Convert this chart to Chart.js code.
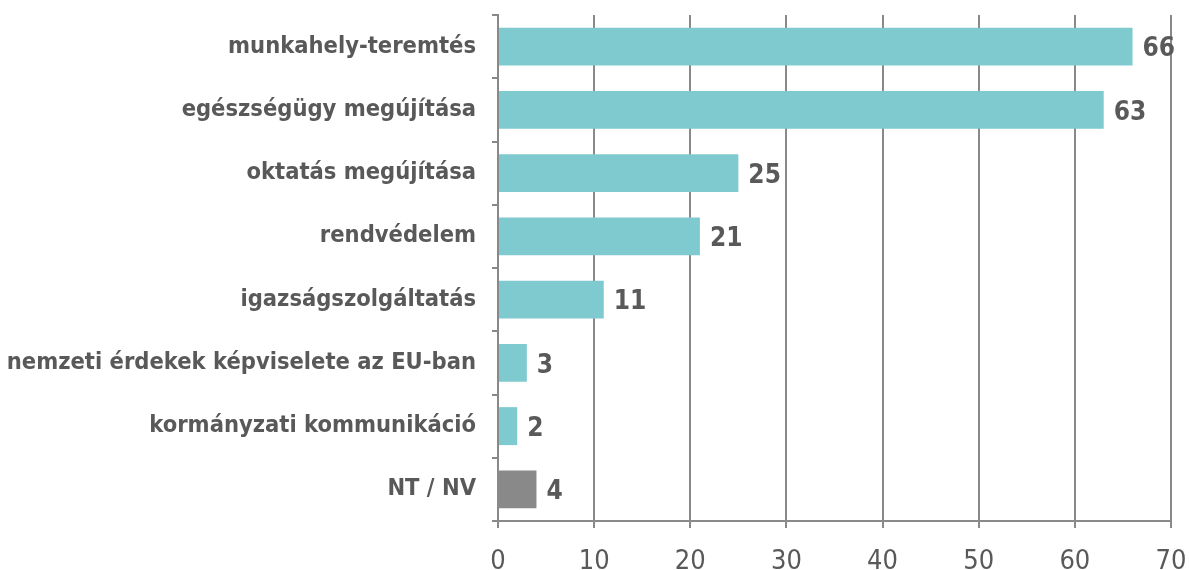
<!DOCTYPE html>
<html>
<head>
<meta charset="utf-8">
<script src="https://cdn.jsdelivr.net/npm/chart.js@4"></script>
<style>
  html, body { margin: 0; padding: 0; background: #fff; }
  #wrap { width: 1189px; height: 570px; }
</style>
</head>
<body>
<div id="wrap"><canvas id="chart" width="1189" height="570"></canvas></div>
<script>
// adatok
const categories = [
    "munkahely-teremtés",
    "egészségügy megújítása",
    "oktatás megújítása",
    "rendvédelem",
    "igazságszolgáltatás",
    "nemzeti érdekek képviselete az EU-ban",
    "kormányzati kommunikáció",
    "NT / NV"
];
const values = [66, 63, 25, 21, 11, 3, 2, 4];
const barColors = ["#7ecacf", "#7ecacf", "#7ecacf", "#7ecacf", "#7ecacf", "#7ecacf", "#7ecacf", "#898989"];
const xTicks = [0, 10, 20, 30, 40, 50, 60, 70];

const fontFamily = "'DejaVu Sans Condensed', 'DejaVu Sans', sans-serif";
const textColor = "#595959";
const lineColor = "#898989";

// értékek kiírása a sávok végére
const valueLabels = {
    id: "valueLabels",
    afterDatasetsDraw(chart) {
        const ctx = chart.ctx;
        const meta = chart.getDatasetMeta(0);
        ctx.save();
        ctx.font = "bold 26px " + fontFamily;
        ctx.fillStyle = textColor;
        ctx.textAlign = "left";
        ctx.textBaseline = "middle";
        meta.data.forEach((bar, i) => {
            ctx.fillText(String(values[i]), bar.x + 10, bar.y + 3);
        });
        ctx.restore();
    }
};

new Chart(document.getElementById("chart").getContext("2d"), {
    type: "bar",
    data: {
        labels: categories,
        datasets: [{
            data: values,
            backgroundColor: barColors,
            borderWidth: 0,
            categoryPercentage: 1,
            barPercentage: 0.6
        }]
    },
    options: {
        indexAxis: "y",
        responsive: false,
        animation: false,
        layout: { padding: { top: 15, right: 18, left: 0, bottom: 0 } },
        plugins: {
            legend: { display: false },
            tooltip: { enabled: false }
        },
        scales: {
            x: {
                min: 0,
                max: 70,
                afterBuildTicks(scale) {
                    scale.ticks = xTicks.map(v => ({ value: v }));
                },
                afterFit(scale) {
                    scale.height = 49;
                    scale.paddingLeft = 0;
                    scale.paddingRight = 0;
                },
                grid: {
                    color: lineColor,
                    lineWidth: 2,
                    tickLength: 7,
                    drawOnChartArea: true
                },
                border: { color: lineColor, width: 2 },
                ticks: {
                    color: textColor,
                    padding: 18,
                    font: { family: fontFamily, size: 27 }
                }
            },
            y: {
                afterFit(scale) {
                    scale.width = 498;
                    scale.paddingTop = 0;
                    scale.paddingBottom = 0;
                },
                grid: {
                    offset: true,
                    color: lineColor,
                    lineWidth: 2,
                    tickLength: 6,
                    drawOnChartArea: false
                },
                border: { color: lineColor, width: 2 },
                ticks: {
                    color: textColor,
                    padding: 16,
                    font: { family: fontFamily, size: 23.5, weight: "bold" }
                }
            }
        }
    },
    plugins: [valueLabels]
});
</script>
</body>
</html>
